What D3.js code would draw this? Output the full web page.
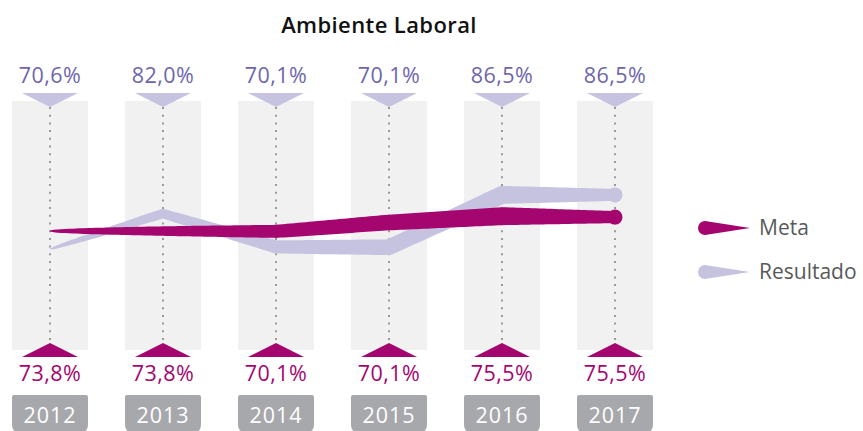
<!DOCTYPE html>
<html>
<head>
<meta charset="utf-8">
<script src="https://cdn.jsdelivr.net/npm/d3@7"></script>
<style>
  body { margin: 0; background: #fff; }
  text { font-family: "Open Sans", sans-serif; }
</style>
</head>
<body>
<script>
// data
var years = ["2012", "2013", "2014", "2015", "2016", "2017"];
var metaLabels = ["73,8%", "73,8%", "70,1%", "70,1%", "75,5%", "75,5%"];
var resultadoLabels = ["70,6%", "82,0%", "70,1%", "70,1%", "86,5%", "86,5%"];
// positions of the drawn lines (they do not follow the labels)
var metaLine = [75.3, 75.3, 75.2, 78.0, 80.0, 79.7];
var resultadoLine = [69.6, 80.8, 70.3, 70.2, 86.7, 86.7];
var legendNames = ["Meta", "Resultado"];

var W = 863, H = 431;
var magenta = "#a4056f", lilac = "#c6c3e0";

var svg = d3.select("body").append("svg").attr("width", W).attr("height", H);

var x = d3.scalePoint().domain(years).range([50, 615]);
var y = d3.scaleLinear().domain([40, 116]).range([343, 102]);

svg.append("text").attr("x", 379).attr("y", 33).attr("text-anchor", "middle")
  .style("font-size", "22px").style("font-weight", 600).style("fill", "#111")
  .style("letter-spacing", "0.4px")
  .text("Ambiente Laboral");

// grey columns
svg.append("g").selectAll("rect").data(years).enter().append("rect")
  .attr("x", function(d) { return x(d) - 38; })
  .attr("y", 101).attr("width", 76).attr("height", 249)
  .style("fill", "#f1f1f1");

// dotted guides
svg.append("g").selectAll("line").data(years).enter().append("line")
  .attr("x1", function(d) { return x(d); }).attr("x2", function(d) { return x(d); })
  .attr("y1", 107).attr("y2", 343)
  .style("stroke", "#9a9a9a").style("stroke-width", 2).style("stroke-dasharray", "2,5.7");

// tapered line: thin at the start, thick near the end
function widthAt(t) {
  return t <= 0.8 ? 1 + 17 * Math.sqrt(t / 0.8) : 18 - (t - 0.8) / 0.2 * 6;
}
function taperPath(vals) {
  var pts = vals.map(function(v, i) { return [x(years[i]), y(v)]; });
  var x0 = pts[0][0], x1 = pts[pts.length - 1][0];
  var normals = [];
  for (var i = 0; i < pts.length - 1; i++) {
    var dx = pts[i + 1][0] - pts[i][0], dy = pts[i + 1][1] - pts[i][1];
    var l = Math.sqrt(dx * dx + dy * dy);
    normals.push([-dy / l, dx / l]);
  }
  var left = [], right = [];
  function push(p, n, s) {
    var w = widthAt((p[0] - x0) / (x1 - x0)) / 2 * s;
    left.push([p[0] + n[0] * w, p[1] + n[1] * w]);
    right.push([p[0] - n[0] * w, p[1] - n[1] * w]);
  }
  var N = 30;
  for (var i = 0; i < pts.length - 1; i++) {
    for (var k = 0; k < N; k++) {
      var t = k / N;
      var p = [pts[i][0] + (pts[i + 1][0] - pts[i][0]) * t, pts[i][1] + (pts[i + 1][1] - pts[i][1]) * t];
      if (k == 0 && i > 0) {
        var a = normals[i - 1], b = normals[i];
        var m = [a[0] + b[0], a[1] + b[1]];
        var ml = Math.sqrt(m[0] * m[0] + m[1] * m[1]);
        m = [m[0] / ml, m[1] / ml];
        push(p, m, 1 / (m[0] * b[0] + m[1] * b[1]));
      } else {
        push(p, normals[i], 1);
      }
    }
  }
  push(pts[pts.length - 1], normals[normals.length - 1], 1);
  return d3.line()(left.concat(right.reverse())) + "Z";
}

var series = [
  { vals: resultadoLine, color: lilac },
  { vals: metaLine, color: magenta }
];
series.forEach(function(s) {
  svg.append("path").attr("d", taperPath(s.vals)).style("fill", s.color);
  svg.append("circle")
    .attr("cx", x(years[years.length - 1]))
    .attr("cy", y(s.vals[s.vals.length - 1]))
    .attr("r", 7.5).style("fill", s.color);
});

// top markers and labels (Resultado)
svg.append("g").selectAll("path").data(years).enter().append("path")
  .attr("d", function(d) { var c = x(d); return "M" + (c - 28) + ",93L" + (c + 28) + ",93L" + c + ",107Z"; })
  .style("fill", lilac);
svg.append("g").selectAll("text").data(resultadoLabels).enter().append("text")
  .attr("x", function(d, i) { return x(years[i]); }).attr("y", 83)
  .attr("text-anchor", "middle").style("font-size", "21.5px").style("fill", "#6d66ad")
  .style("letter-spacing", "0.5px")
  .text(function(d) { return d; });

// bottom markers and labels (Meta)
svg.append("g").selectAll("path").data(years).enter().append("path")
  .attr("d", function(d) { var c = x(d); return "M" + (c - 28) + ",357L" + (c + 28) + ",357L" + c + ",343Z"; })
  .style("fill", magenta);
svg.append("g").selectAll("text").data(metaLabels).enter().append("text")
  .attr("x", function(d, i) { return x(years[i]); }).attr("y", 381)
  .attr("text-anchor", "middle").style("font-size", "21.5px").style("fill", magenta)
  .style("letter-spacing", "0.5px")
  .text(function(d) { return d; });

// year tabs
var tabs = svg.append("g").selectAll("g").data(years).enter().append("g");
tabs.append("path")
  .attr("d", function(d) {
    var l = x(d) - 38, r = x(d) + 38, t = 395, b = 433, rr = 9;
    return "M" + (l + 2) + "," + t + "L" + (r - 2) + "," + t + "Q" + r + "," + t + " " + r + "," + (t + 2) +
      "L" + r + "," + (b - rr) + "Q" + r + "," + b + " " + (r - rr) + "," + b +
      "L" + (l + rr) + "," + b + "Q" + l + "," + b + " " + l + "," + (b - rr) +
      "L" + l + "," + (t + 2) + "Q" + l + "," + t + " " + (l + 2) + "," + t + "Z";
  })
  .style("fill", "#a7a8ac");
tabs.append("text").attr("x", function(d) { return x(d); }).attr("y", 423)
  .attr("text-anchor", "middle").style("font-size", "21.5px").style("fill", "#fff")
  .style("letter-spacing", "1px")
  .text(function(d) { return d; });

// legend
var legend = svg.append("g").selectAll("g").data(legendNames).enter().append("g")
  .attr("transform", function(d, i) { return "translate(0," + (228 + i * 44) + ")"; });
legend.append("path")
  .attr("d", "M750,0L705,-7A7,7 0 1,0 705,7Z")
  .style("fill", function(d, i) { return i == 0 ? magenta : lilac; });
legend.append("text").attr("x", 759).attr("y", 7)
  .style("font-size", "21px").style("fill", "#595959")
  .text(function(d) { return d; });
</script>
</body>
</html>
